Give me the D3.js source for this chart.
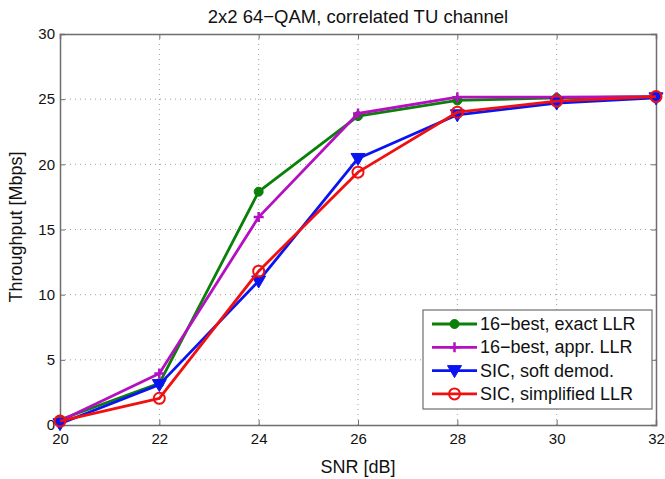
<!DOCTYPE html>
<html><head><meta charset="utf-8">
<script src="https://cdn.jsdelivr.net/npm/d3@7"></script>
<style>body{margin:0;background:#fff}svg{display:block;font-family:"Liberation Sans",Arial,sans-serif}</style>
</head><body><svg id="c" width="665" height="479"></svg>
<script>
const snr = [20, 22, 24, 26, 28, 30, 32];
const exactLLR = [0.4, 3.2, 17.9, 23.7, 24.9, 25.1, 25.2];
const apprLLR = [0.3, 3.95, 15.95, 23.9, 25.15, 25.15, 25.2];
const softDemod = [0.1, 3.1, 11.05, 20.45, 23.8, 24.7, 25.1];
const simplLLR = [0.3, 2.05, 11.8, 19.4, 24.0, 24.85, 25.2];
const xTicks = [20, 22, 24, 26, 28, 30, 32];
const yTicks = [0, 5, 10, 15, 20, 25, 30];
const seriesNames = ["16\u2212best, exact LLR", "16\u2212best, appr. LLR", "SIC, soft demod.", "SIC, simplified LLR"];

const series = [
  {name: seriesNames[0], vals: exactLLR, color: "#0a800a", marker: "dot"},
  {name: seriesNames[1], vals: apprLLR, color: "#b40fc0", marker: "plus"},
  {name: seriesNames[2], vals: softDemod, color: "#0a14f0", marker: "tri"},
  {name: seriesNames[3], vals: simplLLR, color: "#f01010", marker: "circ"}
];

const L = 60, R = 656, T = 34, B = 425;
const svg = d3.select("#c");
const x = d3.scaleLinear().domain([20, 32]).range([L, R]);
const y = d3.scaleLinear().domain([0, 30]).range([B, T]);
const axisColor = "#6e6e6e";

// grid
const g = svg.append("g");
g.selectAll(".gx").data(xTicks.slice(1, -1)).enter().append("line")
  .attr("x1", d => x(d)).attr("x2", d => x(d)).attr("y1", T).attr("y2", B)
  .attr("stroke", "#a0a0a0").attr("stroke-width", 1).attr("stroke-dasharray", "1,4");
g.selectAll(".gy").data(yTicks.slice(1, -1)).enter().append("line")
  .attr("y1", d => y(d)).attr("y2", d => y(d)).attr("x1", L).attr("x2", R)
  .attr("stroke", "#a0a0a0").attr("stroke-width", 1).attr("stroke-dasharray", "1,4");

// axes
const xa = svg.append("g").attr("transform", `translate(0,${B})`)
  .call(d3.axisBottom(x).tickValues(xTicks).tickSize(-5).tickPadding(8).tickFormat(d3.format("d")));
const xa2 = svg.append("g").attr("transform", `translate(0,${T})`)
  .call(d3.axisTop(x).tickValues(xTicks).tickSize(-5).tickFormat(""));
const ya = svg.append("g").attr("transform", `translate(${L},0)`)
  .call(d3.axisLeft(y).tickValues(yTicks).tickSize(-5).tickPadding(5).tickFormat(d3.format("d")));
const ya2 = svg.append("g").attr("transform", `translate(${R},0)`)
  .call(d3.axisRight(y).tickValues(yTicks).tickSize(-5).tickFormat(""));
[xa, xa2, ya, ya2].forEach(a => {
  a.select(".domain").attr("stroke", axisColor).attr("stroke-width", 1.5);
  a.selectAll(".tick line").attr("stroke", axisColor);
  a.selectAll("text").attr("font-size", 15).attr("fill", "#111").attr("font-family", "Liberation Sans, Arial, sans-serif");
});

// lines
const line = d3.line().x((d, i) => x(snr[i])).y(d => y(d));
function drawMarker(sel, type, color) {
  if (type === "dot") sel.append("circle").attr("r", 4.5).attr("fill", color).attr("stroke", color);
  else if (type === "circ") sel.append("circle").attr("r", 5.5).attr("fill", "none").attr("stroke", color).attr("stroke-width", 2);
  else if (type === "plus") sel.append("path").attr("d", "M-5,0H5M0,-5V5").attr("stroke", color).attr("stroke-width", 2.5);
  else if (type === "tri") sel.append("path").attr("d", "M-7,-5H7L0,7Z").attr("fill", color).attr("stroke", color).attr("stroke-width", 1);
}
series.forEach(s => {
  svg.append("path").datum(s.vals).attr("d", line).attr("fill", "none")
    .attr("stroke", s.color).attr("stroke-width", 2.8).attr("stroke-linejoin", "round");
  s.vals.forEach((v, i) => {
    const m = svg.append("g").attr("transform", `translate(${x(snr[i])},${y(v)})`);
    drawMarker(m, s.marker, s.color);
  });
});

// legend
const lg = svg.append("g");
lg.append("rect").attr("x", 423).attr("y", 310).attr("width", 229).attr("height", 99)
  .attr("fill", "#fff").attr("stroke", axisColor).attr("stroke-width", 1.2);
series.forEach((s, i) => {
  const yy = 324 + i * 23.3;
  lg.append("line").attr("x1", 432).attr("x2", 477).attr("y1", yy).attr("y2", yy)
    .attr("stroke", s.color).attr("stroke-width", 2.8);
  const m = lg.append("g").attr("transform", `translate(454.5,${yy})`);
  drawMarker(m, s.marker, s.color);
  lg.append("text").attr("x", 480).attr("y", yy + 6).attr("font-size", 18).attr("fill", "#111").text(s.name);
});

// titles
svg.append("text").attr("x", 358).attr("y", 23).attr("text-anchor", "middle")
  .attr("font-size", 18.5).attr("fill", "#111").text("2x2 64\u2212QAM, correlated TU channel");
svg.append("text").attr("x", 358).attr("y", 473).attr("text-anchor", "middle")
  .attr("font-size", 18).attr("fill", "#111").text("SNR [dB]");
svg.append("text").attr("transform", `translate(22,227) rotate(-90)`).attr("text-anchor", "middle")
  .attr("font-size", 18).attr("fill", "#111").text("Throughput [Mbps]");
</script></body></html>
